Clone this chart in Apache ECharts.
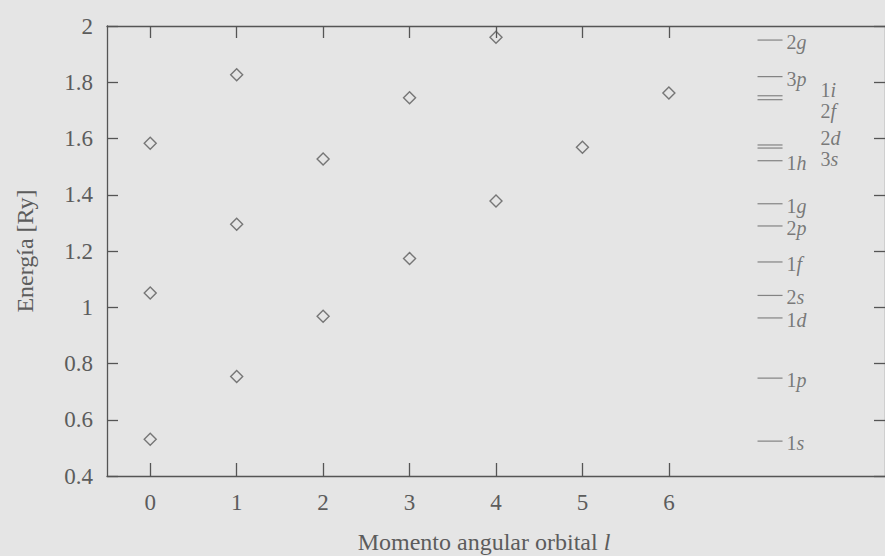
<!DOCTYPE html>
<html><head><meta charset="utf-8">
<script src="https://cdn.jsdelivr.net/npm/echarts@6/dist/echarts.min.js"></script>
<style>html,body{margin:0;padding:0;background:#e5e5e5}#c{width:885px;height:556px}</style>
</head><body><div id="c"></div>
<script>
// ---- data ----
const orbitalL = [0, 0, 0, 1, 1, 1, 2, 2, 3, 3, 4, 4, 5, 6];
const energies = [0.531, 1.051, 1.583, 0.754, 1.295, 1.827, 0.968, 1.527, 1.173, 1.745, 1.378, 1.960, 1.569, 1.762];
const xTickValues = [0, 1, 2, 3, 4, 5, 6];
const levelNames = ['2g', '3p', '1i', '2f', '2d', '3s', '1h', '1g', '2p', '1f', '2s', '1d', '1p', '1s'];
const levelEnergies = [1.950, 1.820, 1.752, 1.738, 1.577, 1.566, 1.521, 1.368, 1.289, 1.161, 1.042, 0.962, 0.748, 0.524];

// ---- styles ----
const INK = '#555';
const TXT = '#5c5c5c';
const FONT = '"Liberation Serif", "DejaVu Serif", serif';
const LEVEL_X = 7.17;
const pairedLabelOffset = { '1i': [38, -6], '2f': [38, 11], '2d': [38, -7], '3s': [38, 11] };

const rich = {
  n: { fontFamily: FONT, fontSize: 20, lineHeight: 14, color: TXT },
  i: { fontFamily: FONT, fontSize: 20, lineHeight: 14, fontStyle: 'italic', color: TXT }
};

const chart = echarts.init(document.getElementById('c'), null, { renderer: 'svg' });
chart.setOption({
  backgroundColor: '#e5e5e5',
  animation: false,
  title: {
    text: 'Momento angular orbital {i|l}',
    left: 484, textAlign: 'center', top: 530, padding: 0,
    textStyle: { fontFamily: FONT, fontSize: 24, fontWeight: 'normal', color: TXT,
      rich: { i: { fontFamily: FONT, fontSize: 24, fontStyle: 'italic', color: TXT } } }
  },
  grid: { left: 107, top: 26, width: 783, height: 450, containLabel: false },
  xAxis: [{
    type: 'value', min: -0.5, max: 8.5, position: 'bottom',
    axisLine: { onZero: false, lineStyle: { color: INK, width: 1.3 } },
    axisTick: { inside: true, length: 13, customValues: xTickValues, lineStyle: { color: INK, width: 1.3 } },
    axisLabel: { customValues: xTickValues, margin: 15, fontFamily: FONT, fontSize: 23, color: TXT },
    splitLine: { show: false }
  }, {
    type: 'value', min: -0.5, max: 8.5, position: 'top',
    axisLine: { show: true, onZero: false, lineStyle: { color: INK, width: 1.3 } },
    axisTick: { show: true, inside: true, length: 12, customValues: xTickValues, lineStyle: { color: INK, width: 1.3 } },
    axisLabel: { show: false }, splitLine: { show: false }
  }],
  yAxis: [{
    type: 'value', min: 0.4, max: 2, interval: 0.2, position: 'left',
    name: 'Energía [Ry]', nameLocation: 'middle', nameRotate: 90, nameGap: 70,
    nameTextStyle: { fontFamily: FONT, fontSize: 24, color: TXT },
    axisLine: { show: true, onZero: false, lineStyle: { color: INK, width: 1.3 } },
    axisTick: { show: true, inside: true, length: 11, lineStyle: { color: INK, width: 1.3 } },
    axisLabel: { margin: 14, fontFamily: FONT, fontSize: 23, color: TXT },
    splitLine: { show: false }
  }, {
    type: 'value', min: 0.4, max: 2, interval: 0.2, position: 'right',
    axisLine: { show: true, onZero: false, lineStyle: { color: INK, width: 1.3 } },
    axisTick: { show: true, inside: true, length: 11, lineStyle: { color: INK, width: 1.3 } },
    axisLabel: { show: false }, splitLine: { show: false }
  }],
  series: [{
    type: 'scatter',
    data: orbitalL.map((l, k) => [l, energies[k]]),
    symbol: 'diamond', symbolSize: 12,
    itemStyle: { color: 'transparent', borderColor: '#5a5a5a', borderWidth: 1.4 },
    silent: true
  }, {
    type: 'scatter',
    data: levelNames.map((nm, k) => {
      const off = pairedLabelOffset[nm];
      return {
        value: [LEVEL_X, levelEnergies[k]], name: nm,
        label: off ? { distance: 0, offset: off } : { distance: 4, offset: [0, 2] }
      };
    }),
    symbol: 'rect', symbolSize: [25, 1.2],
    itemStyle: { color: '#6a6a6a' },
    label: {
      show: true, position: 'right',
      formatter: p => '{n|' + p.name[0] + '}{i|' + p.name.slice(1) + '}',
      rich: rich
    },
    silent: true
  }]
});
</script>
</body></html>
